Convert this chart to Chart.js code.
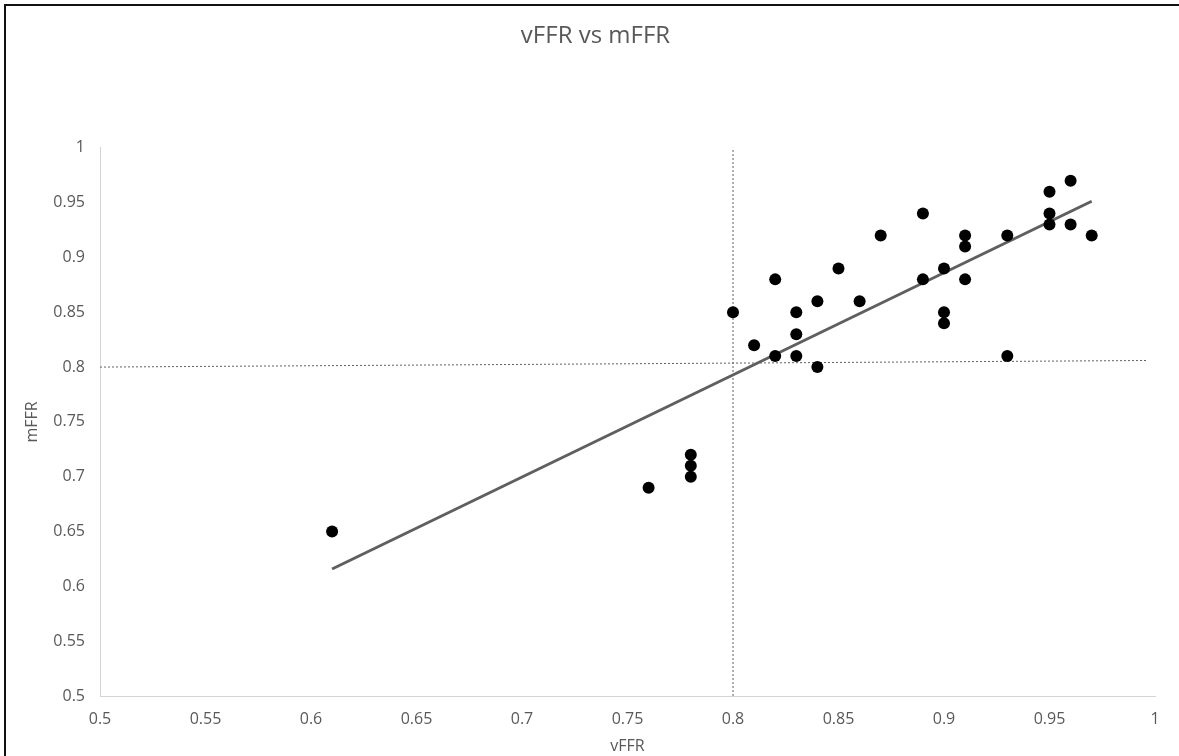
<!DOCTYPE html>
<html>
<head>
<meta charset="utf-8">
<title>vFFR vs mFFR</title>
<script src="https://cdn.jsdelivr.net/npm/chart.js@4.4.1/dist/chart.umd.min.js"></script>
<style>
  html, body { margin: 0; padding: 0; background: #ffffff; overflow: hidden; }
  #wrap { position: relative; width: 1179px; height: 756px; }
  #frame {
    position: absolute; left: 4px; top: 4px; width: 1400px; height: 1000px;
    border: 2px solid #111111; pointer-events: none; box-sizing: border-box;
  }
  canvas { position: absolute; left: 0; top: 0; }
</style>
</head>
<body>
<div id="wrap">
  <canvas id="chart" width="1179" height="756"></canvas>
  <div id="frame"></div>
</div>
<script>
// Paired measurements: angiography-derived FFR (vFFR) and wire-measured FFR (mFFR)
const vffr = [0.61, 0.76, 0.78, 0.78, 0.78, 0.80, 0.81, 0.82, 0.82, 0.83, 0.83,
              0.83, 0.84, 0.84, 0.85, 0.86, 0.87, 0.89, 0.89, 0.90, 0.90, 0.90,
              0.91, 0.91, 0.91, 0.93, 0.93, 0.95, 0.95, 0.95, 0.96, 0.96, 0.97];
const mffr = [0.65, 0.69, 0.72, 0.71, 0.70, 0.85, 0.82, 0.88, 0.81, 0.85, 0.83,
              0.81, 0.86, 0.80, 0.89, 0.86, 0.92, 0.94, 0.88, 0.89, 0.85, 0.84,
              0.92, 0.91, 0.88, 0.92, 0.81, 0.96, 0.94, 0.93, 0.97, 0.93, 0.92];

// 0.80 cut-off guide lines
const cutoffVX = [0.80, 0.80];
const cutoffVY = [0.50, 1.00];
const cutoffHX = [0.50, 0.996];
const cutoffHY = [0.80, 0.806];

// Axis range and tick spacing
const axisMin = 0.5;
const axisMax = 1;
const tickStep = 0.05;

// Least-squares trendline over the observed vFFR range
function linearFit(xs, ys) {
  const n = xs.length;
  const mx = xs.reduce((a, b) => a + b, 0) / n;
  const my = ys.reduce((a, b) => a + b, 0) / n;
  let sxy = 0, sxx = 0;
  for (let i = 0; i < n; i++) {
    sxy += (xs[i] - mx) * (ys[i] - my);
    sxx += (xs[i] - mx) * (xs[i] - mx);
  }
  const slope = sxy / sxx;
  return { slope, intercept: my - slope * mx };
}
const fit = linearFit(vffr, mffr);
const xLo = Math.min(...vffr), xHi = Math.max(...vffr);
const trendPoints = [xLo, xHi].map(x => ({ x, y: fit.intercept + fit.slope * x }));

const zip = (xs, ys) => xs.map((x, i) => ({ x, y: ys[i] }));

const textColor = '#595959';
const fontFamily = '"Open Sans", "DejaVu Sans", sans-serif';
const fmt = v => String(+(+v).toFixed(2));

// Centre the chart title over the span between the y-axis title and the plot's right edge
const titleSpan = {
  id: 'titleSpan',
  afterLayout(chart) {
    const t = chart.titleBlock;
    if (t) { t.left = 36; t.right = chart.chartArea.right; }
  }
};

new Chart(document.getElementById('chart'), {
  type: 'scatter',
  plugins: [titleSpan],
  data: {
    datasets: [
      {
        label: 'mFFR',
        data: zip(vffr, mffr),
        backgroundColor: '#000000',
        borderColor: '#000000',
        pointRadius: 6,
        pointBorderWidth: 0,
        showLine: false
      },
      {
        label: 'Linear (mFFR)',
        data: trendPoints,
        showLine: true,
        borderColor: '#5f5f5f',
        borderWidth: 3,
        pointRadius: 0,
        fill: false
      },
      {
        label: 'vFFR 0.80',
        data: zip(cutoffVX, cutoffVY),
        showLine: true,
        borderColor: '#606060',
        borderWidth: 1,
        borderDash: [2, 2],
        pointRadius: 0,
        fill: false
      },
      {
        label: 'mFFR 0.80',
        data: zip(cutoffHX, cutoffHY),
        showLine: true,
        borderColor: '#606060',
        borderWidth: 1,
        borderDash: [2, 2],
        pointRadius: 0,
        fill: false
      }
    ]
  },
  options: {
    responsive: false,
    animation: false,
    devicePixelRatio: 1,
    layout: { padding: { left: 0, right: 24, top: 0, bottom: 0 } },
    plugins: {
      legend: { display: false },
      tooltip: { enabled: false },
      title: {
        display: true,
        text: 'vFFR vs mFFR',
        color: textColor,
        font: { family: fontFamily, size: 24, weight: 'normal' },
        padding: { top: 22, bottom: 97 }
      }
    },
    scales: {
      x: {
        type: 'linear',
        min: axisMin,
        max: axisMax,
        grid: { display: false, drawTicks: false },
        border: { display: true, color: '#d4d4d4', width: 1 },
        ticks: {
          stepSize: tickStep,
          color: textColor,
          padding: 14,
          font: { family: fontFamily, size: 16 },
          callback: fmt
        },
        title: {
          display: true,
          text: 'vFFR',
          color: textColor,
          font: { family: fontFamily, size: 16 },
          padding: { top: 0, bottom: 0 }
        },
        afterFit: s => { s.height = 60; }
      },
      y: {
        type: 'linear',
        min: axisMin,
        max: axisMax,
        grid: { display: false, drawTicks: false },
        border: { display: true, color: '#d4d4d4', width: 1 },
        ticks: {
          stepSize: tickStep,
          color: textColor,
          padding: 15,
          font: { family: fontFamily, size: 16 },
          callback: fmt
        },
        title: {
          display: true,
          text: 'mFFR',
          color: textColor,
          font: { family: fontFamily, size: 16 },
          padding: { top: 23, bottom: 0 }
        },
        afterFit: s => { s.width = 100; }
      }
    }
  }
});
</script>
</body>
</html>
